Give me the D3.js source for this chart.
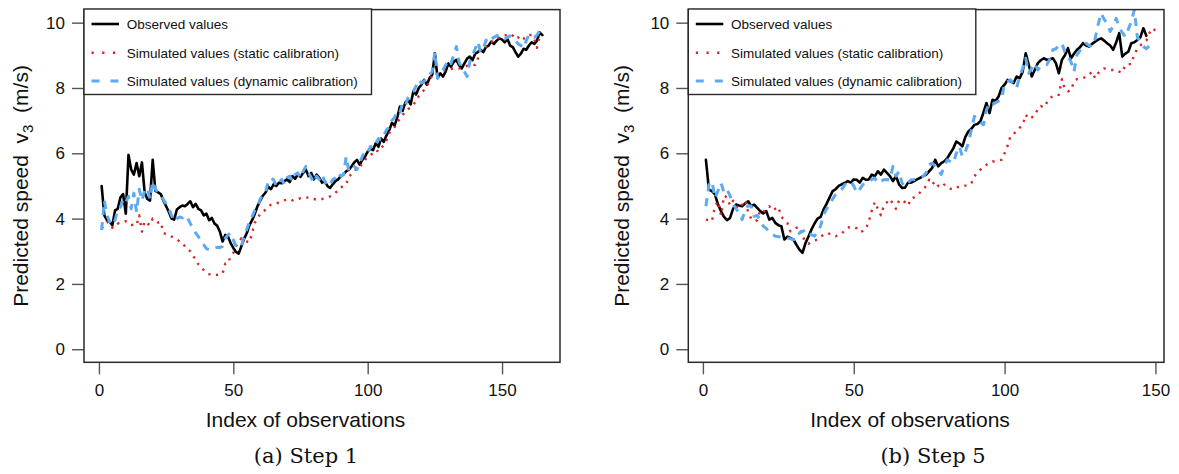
<!DOCTYPE html>
<html>
<head>
<meta charset="utf-8">
<script src="https://cdn.jsdelivr.net/npm/d3@7/dist/d3.min.js"></script>
<style>
  html, body { margin: 0; padding: 0; background: #fff; }
  svg { display: block; }
  text { font-family: "Liberation Sans", Arial, Helvetica, sans-serif; }
</style>
</head>
<body>
<svg id="chart" width="1179" height="474"></svg>
<script>
// ---- Step 1: observed and simulated wind speed v3 (m/s), one value per observation ----
const step1Observed = [
  5.00,4.10,3.95,3.90,3.80,4.25,4.30,4.65,4.75,4.15,
  5.95,5.50,5.35,5.70,5.30,5.72,4.80,4.60,4.55,5.80,
  4.85,4.80,4.75,4.55,4.38,4.20,4.00,3.97,4.28,4.35,
  4.40,4.38,4.45,4.53,4.35,4.45,4.30,4.25,4.10,4.15,
  3.95,4.02,3.85,3.78,3.60,3.30,3.50,3.45,3.25,3.10,
  2.98,2.93,3.15,3.38,3.55,3.80,3.95,4.15,4.38,4.55,
  4.70,4.80,4.98,4.90,5.05,5.00,5.10,5.08,5.15,5.20,
  5.12,5.30,5.22,5.35,5.28,5.40,5.50,5.30,5.40,5.20,
  5.35,5.25,5.10,5.15,5.00,4.94,5.05,5.15,5.20,5.30,
  5.35,5.45,5.50,5.60,5.72,5.80,5.65,5.80,5.90,6.05,
  6.15,6.10,6.31,6.20,6.45,6.35,6.55,6.70,6.93,6.85,
  7.10,7.43,7.30,7.55,7.64,7.50,7.90,7.80,8.00,8.10,
  8.25,8.10,8.30,8.40,9.06,8.30,8.45,8.35,8.50,8.75,
  8.65,8.80,8.86,8.70,8.60,8.75,8.90,8.96,8.85,9.05,
  9.10,9.17,9.10,9.25,9.30,9.42,9.35,9.45,9.52,9.48,
  9.40,9.50,9.30,9.25,9.10,8.96,9.05,9.20,9.17,9.30,
  9.40,9.35,9.45,9.70,9.62
];
const step1Static = [
  3.70,3.80,3.90,3.85,3.72,4.00,3.85,3.88,3.90,3.92,
  3.85,3.80,3.82,3.80,4.10,3.60,3.92,3.85,3.80,4.00,
  3.95,3.88,3.90,3.56,3.52,3.50,3.45,3.40,3.37,3.30,
  3.26,3.15,3.05,3.00,2.85,2.76,2.60,2.51,2.42,2.33,
  2.30,2.28,2.26,2.28,2.30,2.31,2.62,2.62,2.85,2.95,
  3.15,3.28,3.40,3.35,3.30,3.27,3.56,3.87,4.00,4.15,
  4.22,4.27,4.35,4.43,4.45,4.46,4.50,4.52,4.56,4.58,
  4.60,4.56,4.60,4.60,4.62,4.60,4.63,4.65,4.62,4.60,
  4.58,4.60,4.60,4.62,4.65,4.68,4.72,4.80,4.84,4.95,
  5.00,5.04,5.30,5.35,5.45,5.55,5.55,5.70,5.80,5.90,
  5.95,6.00,6.10,6.05,6.16,6.25,6.40,6.62,6.70,6.80,
  6.95,7.05,7.18,7.25,7.35,7.40,7.49,7.60,7.75,7.85,
  7.94,8.05,8.20,8.40,8.42,8.45,8.50,8.52,8.55,8.55,
  8.58,8.60,8.62,8.60,8.62,8.65,8.68,8.70,8.72,8.70,
  8.90,9.17,9.20,9.25,9.35,9.40,9.45,9.50,9.55,9.60,
  9.62,9.60,9.65,9.60,9.50,9.55,9.45,9.50,9.60,9.62,
  9.62,9.50,9.23,9.60
];
const step1Dynamic = [
  3.65,4.55,4.10,3.90,4.05,3.95,4.30,4.35,4.60,4.50,
  4.68,4.30,4.78,4.20,4.90,4.55,4.85,4.94,4.60,5.14,
  4.90,4.80,4.70,4.58,4.45,4.30,4.10,3.92,4.00,4.05,
  4.02,4.10,4.02,3.85,3.70,3.56,3.45,3.30,3.20,3.08,
  3.05,3.10,3.10,3.12,3.11,3.15,3.40,3.50,3.56,3.35,
  3.15,3.12,3.15,3.45,3.67,3.90,4.07,4.25,4.38,4.60,
  4.73,4.79,5.14,5.24,5.19,5.00,5.10,5.20,5.05,5.25,
  5.30,5.15,5.35,5.40,5.25,5.45,5.60,5.40,5.25,5.10,
  5.30,5.20,5.35,5.15,4.99,5.05,5.20,5.25,5.40,5.30,
  5.35,5.90,5.45,5.55,5.60,5.50,5.70,5.90,6.05,6.00,
  6.21,6.15,6.30,6.45,6.40,6.55,6.72,6.80,7.00,7.10,
  7.30,7.25,7.53,7.45,7.70,7.85,7.90,8.05,8.25,8.15,
  8.20,8.35,8.40,8.50,9.11,8.30,8.40,8.55,8.70,8.85,
  8.75,9.00,9.27,8.80,8.60,8.50,8.35,8.80,9.00,9.20,
  9.42,9.10,9.20,9.45,9.57,9.50,9.55,9.60,9.62,9.55,
  9.50,9.55,9.60,9.50,9.45,9.35,9.30,9.22,9.45,9.62,
  9.60,9.55,9.62,9.75,9.93
];

// ---- Step 5 ----
const step5Observed = [
  5.80,4.89,4.84,4.74,4.43,4.23,4.05,3.95,4.02,4.30,
  4.43,4.40,4.38,4.46,4.53,4.38,4.43,4.33,4.23,4.16,
  4.23,3.97,4.02,3.87,3.80,3.77,3.36,3.45,3.40,3.36,
  3.20,3.05,2.95,3.25,3.45,3.67,3.85,4.00,4.05,4.28,
  4.45,4.65,4.84,4.90,5.00,5.05,5.09,5.15,5.10,5.20,
  5.19,5.10,5.25,5.19,5.20,5.35,5.30,5.45,5.35,5.50,
  5.40,5.30,5.15,5.30,5.05,4.94,4.95,5.10,5.10,5.15,
  5.20,5.25,5.30,5.35,5.45,5.55,5.80,5.60,5.70,5.75,
  5.85,6.00,6.15,6.36,6.30,6.21,6.50,6.67,6.75,6.87,
  6.90,6.98,7.25,7.54,7.23,7.64,7.60,7.74,8.00,8.10,
  8.25,8.20,8.15,8.35,8.30,8.50,9.06,8.71,8.35,8.55,
  8.76,8.85,8.91,8.86,8.88,8.91,8.76,8.45,8.86,9.00,
  9.22,8.91,9.05,9.17,9.25,9.37,9.30,9.27,9.35,9.42,
  9.48,9.52,9.45,9.37,9.30,9.17,9.40,9.68,8.96,9.05,
  9.11,9.37,9.40,9.47,9.55,9.83,9.60
];
const step5Static = [
  3.97,3.95,3.92,4.38,4.53,4.10,4.70,4.65,4.40,4.55,
  4.40,4.30,4.42,4.56,4.20,4.00,3.92,3.95,4.25,4.20,
  4.30,4.38,4.25,4.30,4.36,4.06,3.95,3.87,3.61,3.68,
  3.72,3.75,3.46,3.30,3.23,3.30,3.33,3.36,3.45,3.50,
  3.56,3.53,3.48,3.46,3.50,3.53,3.65,3.72,3.75,3.75,
  3.70,3.59,3.62,3.67,3.92,4.25,4.51,4.30,4.10,4.40,
  4.50,4.60,4.45,4.30,4.55,4.58,4.50,4.40,4.62,4.65,
  4.74,4.80,4.89,5.00,5.19,5.05,5.14,5.00,4.95,5.04,
  4.99,4.92,4.89,4.95,4.98,5.00,5.01,5.01,5.09,5.30,
  5.40,5.50,5.55,5.65,5.70,5.75,5.75,5.78,5.80,6.00,
  6.23,6.54,6.60,6.67,6.78,6.87,7.18,7.05,7.10,7.15,
  7.35,7.45,7.40,7.55,7.69,7.75,7.80,7.79,8.27,7.95,
  7.90,7.92,8.20,8.27,8.27,8.30,8.35,8.40,8.50,8.30,
  8.45,8.55,8.60,8.58,8.55,8.55,8.55,8.50,8.47,8.70,
  8.73,8.73,9.03,9.20,9.30,9.39,9.45,9.68,9.83,9.75,
  9.70
];
const step5Dynamic = [
  4.38,5.04,5.14,4.63,4.85,5.09,4.80,4.89,4.70,4.45,
  4.30,4.18,3.97,4.25,4.40,4.38,4.07,4.10,3.95,3.77,
  3.70,3.60,3.52,3.46,3.45,3.41,3.42,3.41,3.38,3.36,
  3.35,3.56,3.60,3.67,3.56,3.50,3.46,3.60,3.77,4.12,
  4.30,4.43,4.60,4.74,4.80,4.89,5.04,5.10,5.14,5.00,
  4.79,4.90,5.04,5.10,5.14,5.20,5.24,5.09,5.15,5.19,
  5.20,5.19,5.60,5.30,5.45,5.09,4.99,5.10,5.19,5.20,
  5.22,5.24,5.30,5.40,5.65,5.70,5.60,5.50,5.35,5.60,
  5.80,5.75,5.70,6.00,6.21,5.90,6.06,6.31,6.72,7.13,
  7.08,6.95,6.87,7.33,7.54,7.50,7.55,7.60,7.64,8.15,
  8.20,8.25,8.10,8.00,8.35,8.60,8.91,8.45,8.60,8.76,
  8.55,8.66,8.70,8.71,8.90,9.17,9.20,9.30,9.37,9.10,
  8.96,8.81,8.50,9.01,9.15,9.27,9.37,9.30,9.27,9.50,
  9.93,10.29,10.10,9.98,9.73,9.90,10.13,9.85,9.70,9.57,
  9.80,10.03,10.39,9.57,9.40,9.27,9.20,9.30
];

// ---- axis ticks, legend entries and captions ----
const xTickValues = [0, 50, 100, 150];
const yTickValues = [0, 2, 4, 6, 8, 10];
const yLimits = [0, 10];
const legendLabels = [
  "Observed values",
  "Simulated values (static calibration)",
  "Simulated values (dynamic calibration)"
];
const xAxisTitle = "Index of observations";
const captions = ["(a) Step 1", "(b) Step 5"];

// ---- styles ----
const seriesStyles = [
  { color: "#000000", width: 2.6, dash: null, cap: "round" },
  { color: "#dd2222", width: 2.4, dash: "2.2 5.6", cap: "butt" },
  { color: "#5eaaf2", width: 3.0, dash: "8 7", cap: "butt" }
];

const svg = d3.select("#chart");
svg.append("rect").attr("width", 1179).attr("height", 474).attr("fill", "#fff");

const panels = [
  { series: [step1Observed, step1Static, step1Dynamic], box: { l: 84, r: 560, t: 9.6, b: 362.3 },
    caption: captions[0], titleX: 305.5, captionX: 306, ylabX: 28 },
  { series: [step5Observed, step5Static, step5Dynamic], box: { l: 688.3, r: 1164, t: 9.6, b: 362.3 },
    caption: captions[1], titleX: 910, captionX: 933, ylabX: 629 }
];

panels.forEach((p, pi) => {
  const b = p.box;
  const n = p.series[0].length;
  // R-style 4% axis extension around the data range
  const xPad = 0.04 * (n - 1);
  const yPad = 0.04 * (yLimits[1] - yLimits[0]);
  const x = d3.scaleLinear().domain([1 - xPad, n + xPad]).range([b.l, b.r]);
  const y = d3.scaleLinear().domain([yLimits[0] - yPad, yLimits[1] + yPad]).range([b.b, b.t]);

  const clipId = "clip" + pi;
  svg.append("clipPath").attr("id", clipId)
    .append("rect").attr("x", b.l).attr("y", b.t).attr("width", b.r - b.l).attr("height", b.b - b.t);

  const plot = svg.append("g").attr("clip-path", `url(#${clipId})`);
  const line = d3.line().x((d, i) => x(i + 1)).y(d => y(d));

  // draw order: observed, static, dynamic
  p.series.forEach((data, si) => {
    const st = seriesStyles[si];
    plot.append("path")
      .datum(data)
      .attr("d", line)
      .attr("fill", "none")
      .attr("stroke", st.color)
      .attr("stroke-width", st.width)
      .attr("stroke-linejoin", "round")
      .attr("stroke-linecap", st.cap)
      .attr("stroke-dasharray", st.dash);
  });

  // axes
  const xAxis = svg.append("g").attr("transform", `translate(0,${b.b})`)
    .call(d3.axisBottom(x).tickValues(xTickValues).tickSize(12).tickPadding(9.5).tickFormat(d3.format("d")));
  const yAxis = svg.append("g").attr("transform", `translate(${b.l},0)`)
    .call(d3.axisLeft(y).tickValues(yTickValues).tickSize(12).tickPadding(7).tickFormat(d3.format("d")));
  [xAxis, yAxis].forEach(a => {
    a.select(".domain").remove();
    a.selectAll(".tick line").attr("stroke", "#555").attr("stroke-width", 1.4);
    a.selectAll(".tick text").attr("fill", "#111").style("font-size", "17px")
      .style("font-family", '"Liberation Sans", Arial, sans-serif');
  });

  // plot frame
  svg.append("rect")
    .attr("x", b.l).attr("y", b.t).attr("width", b.r - b.l).attr("height", b.b - b.t)
    .attr("fill", "none").attr("stroke", "#2a2a2a").attr("stroke-width", 1.5);

  // legend
  const lg = svg.append("g");
  const lgW = 287.5, lgH = 85.5;
  lg.append("rect").attr("x", b.l).attr("y", b.t - 0.6).attr("width", lgW).attr("height", lgH)
    .attr("fill", "#fff").attr("stroke", "#2a2a2a").attr("stroke-width", 1.4);
  const rowY = [24, 52.7, 81];
  legendLabels.forEach((lab, i) => {
    const st = seriesStyles[i];
    lg.append("line")
      .attr("x1", b.l + 7.5).attr("x2", b.l + 35).attr("y1", rowY[i]).attr("y2", rowY[i])
      .attr("stroke", st.color).attr("stroke-width", st.width)
      .attr("stroke-dasharray", i === 1 ? "2.2 8.5" : (i === 2 ? "8 11" : null))
      .attr("stroke-linecap", "butt");
    lg.append("text")
      .attr("x", b.l + 42.7).attr("y", rowY[i]).attr("dy", "0.36em")
      .style("font-size", "13.5px").attr("fill", "#111").text(lab);
  });

  // axis titles
  svg.append("text")
    .attr("x", p.titleX).attr("y", 427).attr("text-anchor", "middle")
    .style("font-size", "21px").attr("fill", "#111").text(xAxisTitle);

  const cy = (b.t + b.b) / 2;
  const yl = svg.append("text")
    .attr("transform", `translate(${p.ylabX},${cy}) rotate(-90)`)
    .attr("text-anchor", "middle")
    .style("font-size", "21px").style("white-space", "pre").attr("fill", "#111");
  yl.append("tspan").text("Predicted speed  v");
  yl.append("tspan").attr("dy", 5).style("font-size", "15px").text("3");
  yl.append("tspan").attr("dy", -5).text("  (m/s)");

  // caption
  svg.append("text")
    .attr("x", p.captionX).attr("y", 463).attr("text-anchor", "middle")
    .style("font-family", '"DejaVu Serif", "Liberation Serif", serif')
    .style("font-size", "21px").attr("fill", "#111").text(p.caption);
});
</script>
</body>
</html>
